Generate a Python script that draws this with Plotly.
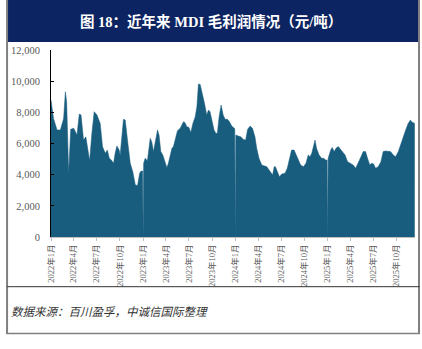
import plotly.graph_objects as go

dates = [
    "2022-01-01","2022-01-11","2022-01-25","2022-02-07","2022-02-20","2022-02-27","2022-03-04","2022-03-12",
    "2022-03-20","2022-04-01","2022-04-14","2022-04-23","2022-04-30","2022-05-10","2022-05-19","2022-05-27",
    "2022-06-03","2022-06-12","2022-06-21","2022-07-02","2022-07-15","2022-07-24","2022-08-04","2022-08-12",
    "2022-08-20","2022-08-28","2022-09-06","2022-09-12","2022-09-19","2022-09-28","2022-10-02","2022-10-15",
    "2022-10-22","2022-10-31","2022-11-11","2022-11-21","2022-12-01","2022-12-10","2022-12-18","2022-12-24",
    "2022-12-30","2023-01-01",
    "2023-01-03","2023-01-09","2023-01-18","2023-01-29","2023-02-04","2023-02-11","2023-02-19","2023-02-27",
    "2023-03-05","2023-03-12","2023-03-20","2023-03-29","2023-04-05","2023-04-11","2023-04-18","2023-04-25",
    "2023-05-01","2023-05-08","2023-05-17","2023-05-28","2023-06-10","2023-06-16","2023-06-23","2023-07-01",
    "2023-07-09","2023-07-17","2023-07-26","2023-08-02","2023-08-08","2023-08-15","2023-08-24","2023-09-01",
    "2023-09-10","2023-09-17","2023-09-23","2023-09-30","2023-10-09","2023-10-16","2023-10-22","2023-10-29",
    "2023-11-06","2023-11-14","2023-11-22","2023-12-01","2023-12-09","2023-12-18","2023-12-26","2023-12-30",
    "2024-01-01",
    "2024-01-03","2024-01-13","2024-01-23","2024-02-02","2024-02-11","2024-02-19","2024-02-29","2024-03-09",
    "2024-03-19","2024-03-26","2024-04-04","2024-04-15","2024-04-25","2024-05-05","2024-05-14","2024-05-18",
    "2024-05-28","2024-06-03","2024-06-08","2024-06-16","2024-06-24","2024-07-03","2024-07-16","2024-07-25",
    "2024-08-02","2024-08-11","2024-08-21","2024-08-29","2024-09-07","2024-09-16","2024-09-27","2024-10-07",
    "2024-10-16","2024-10-23","2024-10-30","2024-11-05","2024-11-12","2024-11-18","2024-11-28","2024-12-08",
    "2024-12-17","2024-12-23","2024-12-30","2025-01-01",
    "2025-01-03","2025-01-13","2025-01-19","2025-01-27","2025-02-03","2025-02-12","2025-02-21","2025-03-04",
    "2025-03-11","2025-03-21","2025-04-03","2025-04-12","2025-04-22","2025-05-02","2025-05-13","2025-05-22",
    "2025-05-31","2025-06-08","2025-06-17","2025-06-24","2025-07-02","2025-07-10","2025-07-20","2025-07-31",
    "2025-08-09","2025-08-18","2025-08-29","2025-09-07","2025-09-18","2025-09-27","2025-10-08","2025-10-18",
    "2025-10-27","2025-11-06","2025-11-16","2025-11-25","2025-11-29","2025-12-06","2025-12-12",
]

profit = [
    8790,7610,6870,6870,7610,9320,8680,4090,
    6910,6980,6540,7890,7830,6220,6430,5580,
    4900,6650,8040,7830,7290,5800,5370,5580,
    5050,4940,4730,5370,5840,5580,5260,7550,
    7510,6220,4730,4190,3340,3300,4090,4230,
    4230,0,
    4730,5050,4900,6330,6120,5480,6220,6870,
    6540,5480,5260,4730,4450,4730,5260,5690,
    5800,6330,6820,6980,7400,7330,7080,7040,
    6700,7290,7700,8360,9820,9790,9220,8580,
    7830,8150,8040,7510,6870,6650,6650,7720,
    8470,7830,7550,7550,7400,7120,6980,6950,
    0,
    6540,6480,6430,6260,6220,6910,7120,6980,
    6430,5690,5050,4620,4580,4510,4300,4190,
    3980,4510,4510,4190,3870,4040,4090,4410,
    5050,5580,5580,5260,4940,4620,4510,4730,
    5260,5150,5370,5750,6220,5690,5260,5050,
    5050,4940,4940,0,
    5050,5580,5750,5480,5690,5800,5630,5370,
    5260,4830,4730,4620,4410,4730,5150,5480,
    5480,5050,4620,4730,4690,4410,4510,4830,
    5480,5520,5520,5480,5260,5150,5480,6010,
    6430,6870,7290,7510,7400,7330,7290,
]

tick_dates = ["2022-01-01","2022-04-01","2022-07-01","2022-10-01",
              "2023-01-01","2023-04-01","2023-07-01","2023-10-01",
              "2024-01-01","2024-04-01","2024-07-01","2024-10-01",
              "2025-01-01","2025-04-01","2025-07-01","2025-10-01"]
tick_labels = ["2022年1月","2022年4月","2022年7月","2022年10月",
               "2023年1月","2023年4月","2023年7月","2023年10月",
               "2024年1月","2024年4月","2024年7月","2024年10月",
               "2025年1月","2025年4月","2025年7月","2025年10月"]

title_text = "图 18：近年来 MDI 毛利润情况（元/吨）"
source_text = "数据来源：百川盈孚，中诚信国际整理"

W, H = 422, 349
L, R, T, B = 51, 6.5, 50, 112
pw, ph = W - L - R, H - T - B

def px(x):
    return (x - L) / pw

def py(y):
    return (H - B - y) / ph

fig = go.Figure()
fig.add_trace(go.Scatter(
    x=dates, y=profit, mode="lines", fill="tozeroy",
    line=dict(color="#185d7e", width=0.5), fillcolor="#185d7e",
    hoverinfo="x+y", showlegend=False,
))

shapes = [
    dict(type="rect", xref="paper", yref="paper", x0=px(7), x1=px(419), y0=py(0), y1=py(42),
         fillcolor="#0c2461", line=dict(width=0), layer="below"),
    dict(type="line", xref="paper", yref="paper", x0=px(7), x1=px(7), y0=py(0), y1=py(334),
         line=dict(color="#808080", width=2)),
    dict(type="line", xref="paper", yref="paper", x0=px(419.5), x1=px(419.5), y0=py(0), y1=py(334),
         line=dict(color="#808080", width=2)),
    dict(type="line", xref="paper", yref="paper", x0=px(7), x1=px(420), y0=py(286.7), y1=py(286.7),
         line=dict(color="#333333", width=1)),
    dict(type="line", xref="paper", yref="paper", x0=px(6), x1=px(420.5), y0=py(333.5), y1=py(333.5),
         line=dict(color="#808080", width=1.5)),
]

annotations = [
    dict(text="<b>" + title_text + "</b>", xref="paper", yref="paper", x=px(211), y=py(21),
         xanchor="center", yanchor="middle", showarrow=False,
         font=dict(family="Liberation Serif, Noto Sans CJK SC", size=14.5, color="white")),
    dict(text="<i>" + source_text + "</i>", xref="paper", yref="paper", x=px(9), y=py(311),
         xanchor="left", yanchor="middle", showarrow=False,
         font=dict(family="Noto Sans CJK SC", size=11.5, color="#333333")),
]

fig.update_layout(
    width=W, height=H,
    margin=dict(l=L, r=R, t=T, b=B, pad=0),
    paper_bgcolor="white", plot_bgcolor="white",
    shapes=shapes, annotations=annotations,
    xaxis=dict(
        type="date", range=["2022-01-01", "2025-12-13"],
        tickvals=tick_dates, ticktext=tick_labels, tickangle=-90,
        ticks="outside", ticklen=3, tickcolor="#bfbfbf",
        showline=True, linecolor="#bfbfbf", linewidth=1,
        showgrid=False, zeroline=False,
        tickfont=dict(family="Liberation Serif, Noto Sans CJK SC", size=8.5, color="#595959"),
    ),
    yaxis=dict(
        range=[0, 12000], dtick=2000, tickformat=",d",
        ticks="inside", ticklen=3, tickcolor="black",
        showline=True, linecolor="black", linewidth=1,
        showgrid=False, zeroline=False, ticklabelstandoff=8,
        tickfont=dict(family="Liberation Serif", size=10.5, color="#595959"),
    ),
)

fig.write_html("out.html")
